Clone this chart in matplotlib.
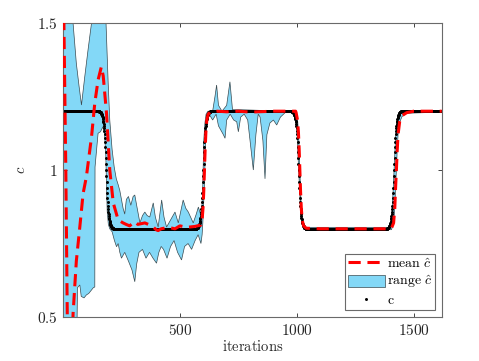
import numpy as np
import matplotlib
matplotlib.use("Agg")
import matplotlib.pyplot as plt
from matplotlib.patches import Patch
from matplotlib.lines import Line2D
from matplotlib.ticker import FuncFormatter

plt.rcParams['mathtext.fontset'] = 'cm'
plt.rcParams['font.family'] = ['DejaVu Serif']

# ---------------- data ----------------
n_iter = 1620
c_high = 1.2
c_low = 0.8
# transitions of true c: (centre iteration, from level, to level)
c_transitions = [(185, 1.2, 0.8), (600, 0.8, 1.2), (1008, 1.2, 0.8), (1416, 0.8, 1.2)]
# shape of one transition, fraction travelled at offsets -30..0;
# the second half mirrors the first
trans_half = [0.002, 0.003, 0.004, 0.005, 0.007, 0.009, 0.011, 0.014, 0.017, 0.021,
              0.025, 0.030, 0.036, 0.043, 0.051, 0.060, 0.070, 0.082, 0.095, 0.110,
              0.127, 0.147, 0.170, 0.197, 0.228, 0.263, 0.302, 0.345, 0.396, 0.448, 0.5]

# mean of c-hat (iteration, value)
mean_it = [1, 3, 12, 19, 25, 38, 43, 57, 72, 86, 100, 122, 136, 150, 164, 172, 186, 200,
           215, 236, 257, 270, 285, 300, 307, 320, 350, 380, 400, 407, 420, 450, 479, 500,
           530, 564, 585, 589, 595, 599, 602, 605, 608, 611, 615, 621, 630, 660, 700, 750,
           800, 900, 995, 997, 1003, 1007, 1010, 1013, 1016, 1019, 1023, 1029, 1040, 1100,
           1400, 1405, 1414, 1419, 1423, 1426, 1429, 1433, 1440, 1450, 1470, 1500, 1620]
mean_val = [2.2, 1.55, 1.0, 0.45, 0.3, 0.3, 0.51, 0.69, 0.807, 0.92, 0.977, 1.113, 1.228,
            1.306, 1.351, 1.32, 1.194, 1.0, 0.888, 0.83, 0.82, 0.815, 0.81, 0.82, 0.824,
            0.815, 0.82, 0.81, 0.796, 0.794, 0.80, 0.805, 0.80, 0.81, 0.805, 0.808, 0.812,
            0.812, 0.83, 0.873, 0.928, 1.0, 1.072, 1.127, 1.17, 1.19, 1.197, 1.2, 1.198,
            1.2, 1.197, 1.2, 1.2, 1.195, 1.17, 1.127, 1.072, 1.0, 0.928, 0.873, 0.83, 0.81,
            0.802, 0.8, 0.8, 0.802, 0.82, 0.87, 0.95, 1.0, 1.06, 1.12, 1.165, 1.185, 1.195,
            1.2, 1.2]

# upper bound of range of c-hat
upper_it = [1, 38, 43, 57, 69, 79, 93, 107, 122, 130, 170, 184, 193, 200, 210, 219, 228,
            236, 243, 250, 257, 264, 271, 280, 290, 300, 307, 315, 329, 340, 350, 360, 371,
            386, 395, 407, 422, 432, 443, 460, 479, 493, 514, 525, 536, 557, 570, 579, 588,
            593, 598, 602, 607, 612, 620, 640, 650, 657, 665, 680, 700, 714, 725, 760, 950,
            997, 1003, 1007, 1010, 1013, 1016, 1019, 1023, 1029, 1040, 1400, 1404, 1408,
            1412, 1416, 1420, 1424, 1430, 1440, 1460, 1620]
upper_val = [2.0, 1.7, 1.5, 1.363, 1.283, 1.221, 1.317, 1.408, 1.5, 1.65, 1.65, 1.5, 1.30,
             1.17, 1.07, 1.01, 0.97, 0.95, 0.93, 0.90, 0.87, 0.85, 0.90, 0.91, 0.88, 0.91,
             0.915, 0.88, 0.82, 0.845, 0.857, 0.845, 0.84, 0.888, 0.84, 0.806, 0.898, 0.84,
             0.806, 0.83, 0.857, 0.82, 0.898, 0.87, 0.857, 0.82, 0.85, 0.874, 0.85, 0.853,
             0.95, 1.10, 1.16, 1.19, 1.20, 1.20, 1.25, 1.289, 1.22, 1.20, 1.22, 1.30, 1.205,
             1.205, 1.20, 1.198, 1.175, 1.13, 1.075, 1.0, 0.93, 0.875, 0.832, 0.812, 0.805,
             0.805, 0.82, 0.87, 0.93, 1.0, 1.07, 1.13, 1.17, 1.19, 1.2, 1.2]

# lower bound of range of c-hat
lower_it = [1, 57, 62, 72, 78, 90, 100, 110, 120, 130, 136, 137, 150, 160, 171, 178, 183,
            186, 189, 194, 200, 210, 220, 229, 236, 243, 250, 264, 280, 295, 307, 315, 325,
            340, 355, 370, 385, 400, 410, 420, 430, 445, 460, 475, 490, 507, 520, 535, 550,
            565, 578, 590, 595, 598, 605, 610, 615, 625, 640, 655, 665, 686, 693, 700, 715,
            730, 743, 750, 760, 775, 790, 800, 814, 825, 835, 843, 855, 864, 872, 885, 900,
            914, 930, 950, 990, 996, 1000, 1004, 1008, 1012, 1016, 1020, 1026, 1040, 1405,
            1414, 1419, 1423, 1426, 1429, 1433, 1440, 1450, 1470, 1620]
lower_val = [0.0, 0.3, 0.6, 0.609, 0.57, 0.565, 0.575, 0.58, 0.59, 0.60, 0.602, 1.01, 1.125,
             1.13, 1.147, 1.12, 1.05, 0.95, 0.86, 0.815, 0.80, 0.79, 0.76, 0.739, 0.75, 0.72,
             0.70, 0.72, 0.69, 0.66, 0.62, 0.68, 0.72, 0.73, 0.70, 0.72, 0.70, 0.683, 0.72,
             0.74, 0.73, 0.70, 0.74, 0.76, 0.72, 0.694, 0.74, 0.75, 0.73, 0.76, 0.78, 0.75,
             0.78, 0.82, 0.95, 1.10, 1.16, 1.19, 1.17, 1.19, 1.15, 1.12, 1.108, 1.17, 1.19,
             1.17, 1.164, 1.13, 1.18, 1.19, 1.17, 1.10, 1.0, 1.12, 1.19, 1.18, 1.10, 0.97,
             1.12, 1.16, 1.17, 1.153, 1.18, 1.195, 1.195, 1.185, 1.15, 1.07, 1.0, 0.93, 0.87,
             0.83, 0.805, 0.797, 0.797, 0.82, 0.87, 0.95, 1.0, 1.06, 1.12, 1.162, 1.182,
             1.193, 1.197]

x_ticks = [500, 1000, 1500]
y_ticks = [0.5, 1.0, 1.5]
y_tick_labels = ['0.5', '1', '1.5']

# ---------------- build true c ----------------
iters = np.arange(1, n_iter + 1)
c = np.full(n_iter, c_high)
first = np.array(trans_half)
shape = np.concatenate([first, 1.0 - first[-2::-1]])
half = (len(shape) - 1) // 2
prev_end = 0
for centre, a, b in c_transitions:
    i0 = centre - half - 1
    c[prev_end:i0] = a
    c[i0:i0 + len(shape)] = a + (b - a) * shape
    prev_end = i0 + len(shape)
    last = b
c[prev_end:] = last

# ---------------- plot ----------------
fig = plt.figure(figsize=(4.79, 3.61), dpi=100)
ax = fig.add_axes([63 / 479, 1 - 317 / 361, (442 - 63) / 479, (317 - 23) / 361])

fill_col = '#83d8f7'
poly_x = np.concatenate([upper_it, lower_it[::-1]])
poly_y = np.concatenate([upper_val, lower_val[::-1]])
ax.fill(poly_x, poly_y, facecolor=fill_col, edgecolor='#3a4a50', linewidth=0.5, zorder=1)

ax.plot(iters, c, linestyle='none', marker='.', color='k', markersize=4.3,
        markeredgewidth=0, zorder=2)
ax.plot(mean_it, mean_val, color='#ff0000', linewidth=2.2, dashes=(4, 2.2), zorder=3)

ax.set_xlim(0, 1621)
ax.set_ylim(0.5, 1.5)
ax.set_xticks(x_ticks)
ax.set_yticks(y_ticks)
ax.xaxis.set_major_formatter(FuncFormatter(lambda v, p: r'$\mathrm{%d}$' % v))
ax.set_yticklabels([r'$\mathrm{%s}$' % s for s in y_tick_labels])
ax.tick_params(direction='in', top=True, right=True, length=3, width=0.6,
               colors='#262626', labelsize=11, pad=4)
for s in ax.spines.values():
    s.set_color('#6a6a6a')
    s.set_linewidth(0.8)

ax.set_xlabel(r'$\mathrm{iterations}$', fontsize=10.5, color='#262626', labelpad=1)
ax.set_ylabel(r'$c$', fontsize=10.5, color='#262626', labelpad=6)

handles = [Line2D([], [], color='#ff0000', linewidth=2.2, dashes=(4, 2.2)),
           Patch(facecolor=fill_col, edgecolor='#3a4a50', linewidth=0.5),
           Line2D([], [], linestyle='none', marker='.', color='k', markersize=4.3,
                  markeredgewidth=0)]
labels = [r'$\mathrm{mean}\ \hat{c}$', r'$\mathrm{range}\ \hat{c}$', r'$\mathrm{c}$']
leg = ax.legend(handles, labels, loc='lower right', fontsize=10, fancybox=False,
                framealpha=1, edgecolor='#6a6a6a', handlelength=2.7, handleheight=1.0,
                borderpad=0.2, labelspacing=0.2, handletextpad=0.15,
                borderaxespad=0.5)
leg.get_frame().set_linewidth(0.8)

fig.savefig('out.png', dpi=100)
